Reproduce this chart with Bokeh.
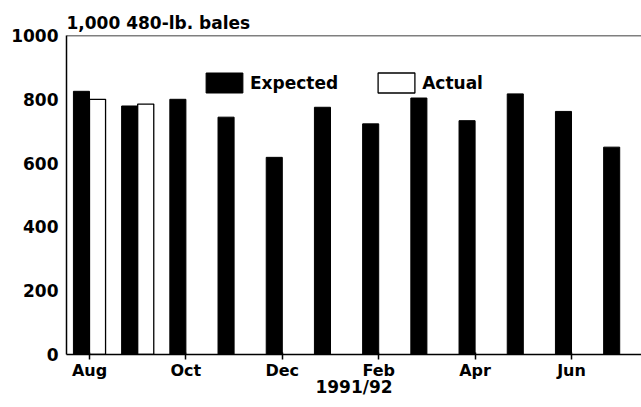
from bokeh.plotting import figure
from bokeh.models import ColumnDataSource, Range1d, FixedTicker, Legend, LegendItem, Span
from bokeh.embed import file_html
from bokeh.resources import INLINE

# ---- data ----
months = ["Aug", "Sep", "Oct", "Nov", "Dec", "Jan", "Feb", "Mar", "Apr", "May", "Jun", "Jul"]
expected = [825, 779, 800, 744, 618, 775, 723, 804, 733, 817, 762, 650]
actual_months = ["Aug", "Sep"]
actual = [800, 785]
tick_months = ["Aug", "Oct", "Dec", "Feb", "Apr", "Jun"]
y_ticks = [0, 200, 400, 600, 800, 1000]
title_text = "1,000 480-lb. bales"
x_title = "1991/92"

FONT = "DejaVu Sans"
BAR_W = 1 / 3

exp_src = ColumnDataSource(dict(x=[i - BAR_W / 2 for i in range(len(months))], top=expected))
act_src = ColumnDataSource(dict(x=[months.index(m) + BAR_W / 2 for m in actual_months], top=actual))

p = figure(width=641, height=405, output_backend="svg", toolbar_location=None,
           x_range=Range1d(-0.477, 11.452), y_range=Range1d(0, 1000),
           min_border_left=66, min_border_right=0, min_border_top=35, min_border_bottom=51)
p.outline_line_color = None
p.xgrid.visible = False
p.ygrid.visible = False
p.background_fill_color = "white"

r_exp = p.vbar(x="x", top="top", bottom=0, width=BAR_W, source=exp_src,
               fill_color="black", line_color="black", line_width=1)
r_act = p.vbar(x="x", top="top", bottom=0, width=BAR_W, source=act_src,
               fill_color="white", line_color="black", line_width=1.3)

# title
p.title.text = title_text
p.title.align = "left"
p.title.text_font = FONT
p.title.text_font_size = "17px"
p.title.text_font_style = "bold"
p.title.text_color = "black"
p.title.standoff = 6

# y axis
ya = p.yaxis[0]
ya.ticker = FixedTicker(ticks=y_ticks)
ya.major_tick_out = 0
ya.major_tick_in = 0
ya.minor_tick_out = 0
ya.minor_tick_in = 0
ya.major_label_standoff = 8
ya.major_label_text_font = FONT
ya.major_label_text_font_size = "17px"
ya.major_label_text_font_style = "bold"
ya.major_label_text_color = "black"
ya.axis_line_width = 1.5
ya.axis_line_color = "black"

# x axis
xa = p.xaxis[0]
tick_pos = [months.index(m) for m in tick_months]
xa.ticker = FixedTicker(ticks=tick_pos)
xa.major_label_overrides = {i: m for i, m in zip(tick_pos, tick_months)}
xa.major_tick_out = 5
xa.major_tick_in = 2
xa.major_tick_line_width = 1.5
xa.minor_tick_out = 0
xa.minor_tick_in = 0
xa.major_label_standoff = 1
xa.major_label_text_font = FONT
xa.major_label_text_font_size = "16px"
xa.major_label_text_font_style = "bold"
xa.major_label_text_color = "black"
xa.axis_line_width = 1.5
xa.axis_line_color = "black"
xa.axis_label = x_title
xa.axis_label_text_font = FONT
xa.axis_label_text_font_size = "17px"
xa.axis_label_text_font_style = "bold"
xa.axis_label_text_color = "black"
xa.axis_label_standoff = -6

# top frame line
p.add_layout(Span(location=1000, dimension="width", line_color="black", line_width=1.5))

legend = Legend(items=[LegendItem(label="Expected", renderers=[r_exp]),
                       LegendItem(label="Actual", renderers=[r_act])],
                orientation="horizontal", location=(135, 259),
                padding=0, margin=0, spacing=35, label_standoff=3,
                glyph_width=46, glyph_height=25,
                border_line_color=None, background_fill_alpha=0,
                label_text_font=FONT, label_text_font_size="17px",
                label_text_font_style="bold", label_text_color="black")
p.add_layout(legend)

open("out.html", "w").write(file_html(p, INLINE))
